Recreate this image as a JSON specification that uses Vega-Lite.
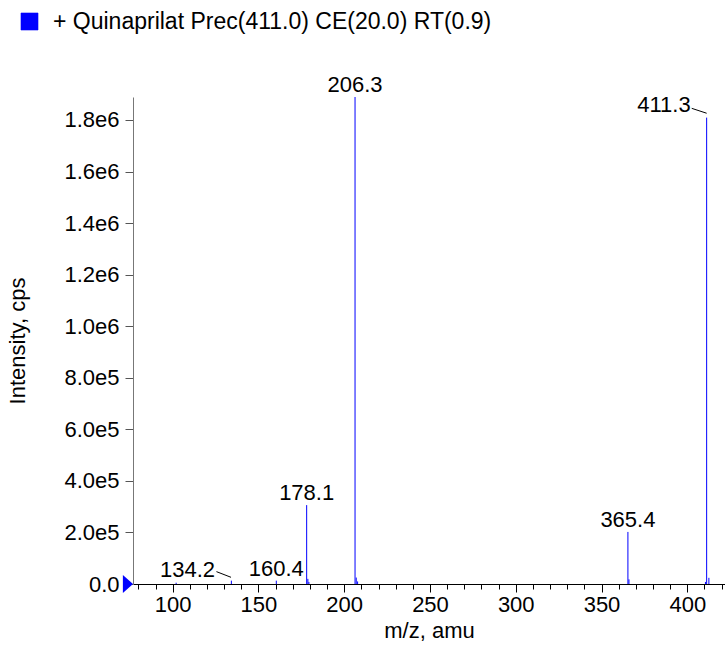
{
  "$schema": "https://vega.github.io/schema/vega-lite/v6.json",
  "width": 592,
  "height": 487,
  "autosize": {"type": "none"},
  "padding": {"left": 133, "top": 97, "right": 0, "bottom": 63},
  "background": "white",
  "config": {
    "view": {"stroke": null},
    "font": "Liberation Sans",
    "text": {"font": "Liberation Sans"}
  },
  "datasets": {
    "peaks": [
      {"mz": 102.0, "intensity": 5000},
      {"mz": 134.2, "intensity": 13000},
      {"mz": 160.4, "intensity": 13000},
      {"mz": 178.1, "intensity": 306000},
      {"mz": 178.8, "intensity": 20000},
      {"mz": 179.4, "intensity": 8000},
      {"mz": 206.3, "intensity": 1889000},
      {"mz": 207.0, "intensity": 25000},
      {"mz": 207.8, "intensity": 10000},
      {"mz": 365.4, "intensity": 202000},
      {"mz": 366.0, "intensity": 18000},
      {"mz": 410.6, "intensity": 8000},
      {"mz": 411.3, "intensity": 1809000},
      {"mz": 412.6, "intensity": 24000}
    ],
    "labels": [
      {"label": "206.3", "mz": 206.3, "intensity": 1889000},
      {"label": "178.1", "mz": 178.1, "intensity": 306000},
      {"label": "160.4", "mz": 160.4, "intensity": 13000},
      {"label": "365.4", "mz": 365.4, "intensity": 202000}
    ],
    "offsetLabels": [
      {"label": "411.3", "lx": 402.0, "ly": 1831000, "x1": 402.6, "y1": 1845000, "x2": 411.3, "y2": 1826000},
      {"label": "134.2", "lx": 124.7, "ly": 27000, "x1": 125.5, "y1": 48000, "x2": 134.0, "y2": 26000}
    ],
    "marker": [{"mz": 73.9, "intensity": 0}]
  },
  "resolve": {"axis": {"x": "independent"}},
  "layer": [
    {
      "data": {"name": "peaks"},
      "mark": {"type": "rule", "strokeWidth": 1},
      "encoding": {
        "x": {
          "field": "mz", "type": "quantitative",
          "scale": {"domain": [76.85, 422], "nice": false, "zero": false},
          "axis": {
            "orient": "bottom",
            "title": "m/z, amu",
            "titleFontSize": 22, "titleFontWeight": "normal", "titleColor": "#000", "titleFont": "Liberation Sans",
            "titlePadding": 5,
            "values": [100, 150, 200, 250, 300, 350, 400],
            "labelFontSize": 22, "labelColor": "#000", "labelFont": "Liberation Sans",
            "labelPadding": 2,
            "tickSize": 8,
            "tickColor": "#000", "domainColor": "#000", "grid": false,
            "labelFlush": false, "labelOverlap": false
          }
        },
        "y": {
          "field": "intensity", "type": "quantitative",
          "scale": {"domain": [0, 1889000], "nice": false},
          "axis": {
            "title": "Intensity, cps",
            "titleFontSize": 22, "titleFontWeight": "normal", "titleColor": "#000", "titleFont": "Liberation Sans",
            "titlePadding": 34,
            "values": [0, 100000, 200000, 300000, 400000, 500000, 600000, 700000, 800000, 900000, 1000000, 1100000, 1200000, 1300000, 1400000, 1500000, 1600000, 1700000, 1800000],
            "labelExpr": "datum.value === 0 ? '0.0' : (datum.value % 200000 !== 0 ? '' : format(datum.value / pow(10, floor(log(datum.value) / LN10 + 1e-9)), '.1f') + 'e' + floor(log(datum.value) / LN10 + 1e-9))",
            "labelFontSize": 22, "labelColor": "#000", "labelFont": "Liberation Sans",
            "labelPadding": 6,
            "tickSize": {"condition": {"test": "datum.value % 200000 === 0", "value": 8}, "value": 4},
            "tickColor": "#555", "domainColor": "#777", "grid": false,
            "labelFlush": false, "labelOverlap": false
          }
        },
        "y2": {"datum": 0},
        "color": {
          "datum": "+ Quinaprilat Prec(411.0) CE(20.0) RT(0.9)",
          "scale": {"range": ["#0000ff"]},
          "legend": {
            "title": null,
            "orient": "none",
            "legendX": -115,
            "legendY": -87,
            "padding": 0,
            "symbolType": "square",
            "symbolSize": 289,
            "symbolFillColor": "#0000ff",
            "symbolStrokeColor": "#333",
            "symbolStrokeWidth": 0.6,
            "labelFontSize": 23,
            "labelFont": "Liberation Sans",
            "labelColor": "#000",
            "labelOffset": 12,
            "labelLimit": 0
          }
        }
      }
    },
    {
      "data": {"name": "labels"},
      "mark": {"type": "text", "baseline": "alphabetic", "align": "center", "dy": -5, "fontSize": 22, "color": "#000"},
      "encoding": {
        "x": {"field": "mz", "type": "quantitative", "axis": null},
        "y": {"field": "intensity", "type": "quantitative"},
        "text": {"field": "label"}
      }
    },
    {
      "data": {"name": "offsetLabels"},
      "mark": {"type": "text", "baseline": "alphabetic", "align": "right", "fontSize": 22, "color": "#000"},
      "encoding": {
        "x": {"field": "lx", "type": "quantitative", "axis": null},
        "y": {"field": "ly", "type": "quantitative"},
        "text": {"field": "label"}
      }
    },
    {
      "data": {"name": "offsetLabels"},
      "mark": {"type": "rule", "color": "#000", "strokeWidth": 1},
      "encoding": {
        "x": {"field": "x1", "type": "quantitative", "axis": null},
        "x2": {"field": "x2"},
        "y": {"field": "y1", "type": "quantitative"},
        "y2": {"field": "y2"}
      }
    },
    {
      "data": {"name": "marker"},
      "mark": {"type": "point", "shape": "M-0.56,-1L0.56,0L-0.56,1Z", "size": 324, "filled": true, "color": "#0000ff", "opacity": 1, "clip": false},
      "encoding": {
        "x": {
          "field": "mz", "type": "quantitative",
          "axis": {
            "orient": "bottom",
            "title": null,
            "values": [80, 90, 110, 120, 130, 140, 160, 170, 180, 190, 210, 220, 230, 240, 260, 270, 280, 290, 310, 320, 330, 340, 360, 370, 380, 390, 410, 420],
            "labels": false,
            "domain": false,
            "grid": false,
            "tickSize": 5,
            "tickColor": "#000"
          }
        },
        "y": {"field": "intensity", "type": "quantitative"}
      }
    }
  ]
}
